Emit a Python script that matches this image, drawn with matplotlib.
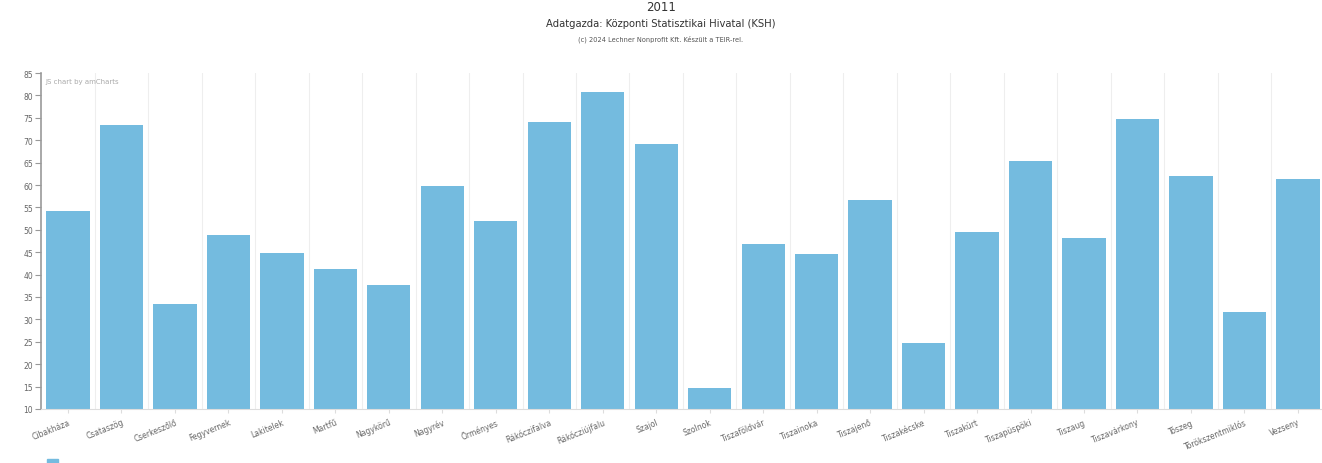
import matplotlib.pyplot as plt
import matplotlib.patches as mpatches
import numpy as np

# Settlements (x categories) and values
settlements = ['Cibakháza', 'Csataszög', 'Cserkeszőlő', 'Fegyvernek', 'Lakitelek',
               'Martfű', 'Nagykörű', 'Nagyrév', 'Örményes', 'Rákóczifalva',
               'Rákócziújfalu', 'Szajol', 'Szolnok', 'Tiszaföldvár', 'Tiszainoka',
               'Tiszajenő', 'Tiszakécske', 'Tiszakürt', 'Tiszapüspöki', 'Tiszaug',
               'Tiszavárkony', 'Tószeg', 'Törökszentmiklós', 'Vezseny']
values = [54.3, 73.5, 33.4, 48.8, 44.8,
          41.2, 37.7, 59.8, 52.0, 74.1,
          80.8, 69.2, 14.7, 46.8, 44.6,
          56.6, 24.7, 49.5, 65.4, 48.2,
          74.7, 62.0, 31.6, 61.3]
y_ticks = list(range(10, 86, 5))

bar_color = '#74bbdf'
text_gray = '#666666'

plt.rcParams['font.family'] = ['DejaVu Sans']

fig = plt.figure(figsize=(13.22, 4.64), dpi=100)
fig.patch.set_facecolor('white')
ax = fig.add_axes([0.0312, 0.1164, 0.9708, 0.7241])

x = np.arange(len(settlements))
ax.bar(x, values, width=0.81, color=bar_color, zorder=2)

ax.set_xlim(-0.5, len(settlements) - 0.5)
ax.set_ylim(10, 85)
ax.set_yticks(y_ticks)
ax.set_xticks(x)
ax.set_xticklabels(settlements, rotation=22, ha='right', rotation_mode='anchor',
                   fontsize=5.5, color=text_gray)
ax.tick_params(axis='y', labelsize=5.5, labelcolor=text_gray, length=4,
               color='#999999', width=0.8, pad=2)
ax.tick_params(axis='x', length=3, color='#dddddd', pad=3)

# vertical grid at category boundaries
for b in np.arange(0.5, len(settlements) - 0.5, 1):
    ax.axvline(b, color='#eeeeee', lw=0.8, zorder=0)

for s in ['top', 'right']:
    ax.spines[s].set_visible(False)
ax.spines['left'].set_color('#999999')
ax.spines['left'].set_linewidth(1.2)
ax.spines['bottom'].set_color('#dddddd')

ax.text(0.003, 0.985, 'JS chart by amCharts', transform=ax.transAxes,
        fontsize=5, color='#aaaaaa', va='top', ha='left')

fig.text(0.5, 0.983, '2011', ha='center', va='center', fontsize=8.5, color='#333333')
fig.text(0.5, 0.948, 'Adatgazda: Központi Statisztikai Hivatal (KSH)', ha='center',
         va='center', fontsize=7.2, color='#333333')
fig.text(0.5, 0.916, '(c) 2024 Lechner Nonprofit Kft. Készült a TEIR-rel.', ha='center',
         va='center', fontsize=4.8, color='#555555')

# legend marker at the bottom (cut off in the reference)
fig.patches.append(mpatches.Rectangle((0.0355, 0.0), 0.0085, 0.008,
                                      transform=fig.transFigure, color=bar_color))

plt.savefig('out.png', dpi=100, facecolor='white')
